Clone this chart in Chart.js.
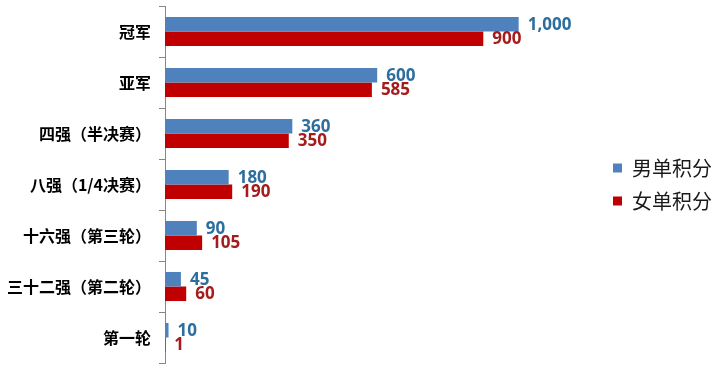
<!DOCTYPE html>
<html>
<head>
<meta charset="utf-8">
<script src="https://cdn.jsdelivr.net/npm/chart.js@4/dist/chart.umd.min.js"></script>
<style>
html,body{margin:0;padding:0;background:#fff;}
#wrap{width:724px;height:369px;}
</style>
</head>
<body>
<div id="wrap"><canvas id="c" width="724" height="369"></canvas></div>
<script>
const categories = ['冠军','亚军','四强（半决赛）','八强（1/4决赛）','十六强（第三轮）','三十二强（第二轮）','第一轮'];
const menPoints = [1000, 600, 360, 180, 90, 45, 10];
const womenPoints = [900, 585, 350, 190, 105, 60, 1];
const seriesNames = ['男单积分', '女单积分'];

const barColors = ['#4F81BD', '#C00000'];
const labelColors = ['#2E6E9E', '#A51C1C'];

const valueLabels = {
  id: 'valueLabels',
  afterDatasetsDraw(chart) {
    const ctx = chart.ctx;
    ctx.save();
    ctx.font = 'bold 17px "Open Sans", "Liberation Sans", sans-serif';
    ctx.textBaseline = 'middle';
    ctx.textAlign = 'left';
    chart.data.datasets.forEach((ds, di) => {
      const meta = chart.getDatasetMeta(di);
      ctx.fillStyle = labelColors[di];
      meta.data.forEach((el, i) => {
        const v = ds.data[i];
        ctx.fillText(v.toLocaleString('en-US'), el.x + 9, el.y + 0.5);
      });
    });
    ctx.restore();
  }
};

new Chart(document.getElementById('c'), {
  type: 'bar',
  data: {
    labels: categories,
    datasets: [
      { label: seriesNames[0], data: menPoints, backgroundColor: barColors[0], categoryPercentage: 0.57, barPercentage: 1.0 },
      { label: seriesNames[1], data: womenPoints, backgroundColor: barColors[1], categoryPercentage: 0.57, barPercentage: 1.0 }
    ]
  },
  options: {
    indexAxis: 'y',
    responsive: false,
    animation: false,
    layout: { padding: { top: 6, bottom: 6, left: 0, right: 2 } },
    plugins: {
      tooltip: { enabled: false },
      legend: {
        position: 'right',
        labels: {
          boxWidth: 9,
          boxHeight: 9,
          padding: 13,
          color: '#1a1a1a',
          font: { family: '"Noto Sans CJK SC", sans-serif', size: 20, weight: 'normal' }
        }
      }
    },
    scales: {
      x: { display: false, min: 0, max: 1230 },
      y: {
        grid: { display: true, drawOnChartArea: false, drawTicks: true, tickLength: 6, color: '#868686', offset: true },
        border: { display: true, color: '#868686' },
        ticks: {
          color: '#000',
          padding: 8,
          font: { family: '"Noto Sans CJK SC", sans-serif', size: 16, weight: 'bold' }
        },
        afterFit(scale) { scale.width = 165; scale.paddingTop = 0; scale.paddingBottom = 0; }
      }
    }
  },
  plugins: [valueLabels]
});
</script>
</body>
</html>
